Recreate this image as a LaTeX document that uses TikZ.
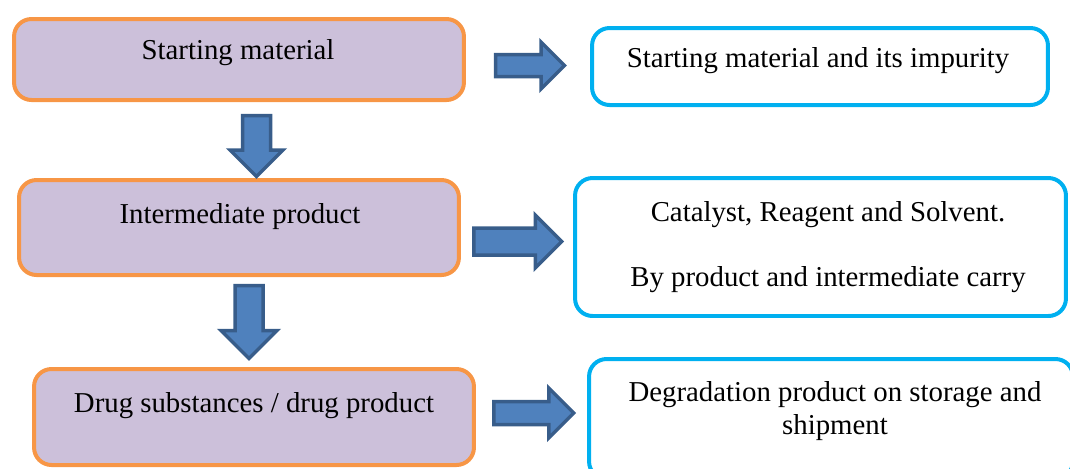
\documentclass[tikz,border=0pt]{standalone}
\usepackage{fontspec}
\setmainfont{Liberation Serif}
\usepackage{tikz}
\usetikzlibrary{shapes.arrows}
\definecolor{stageline}{RGB}{247, 150, 70}
\definecolor{stagebg}{RGB}{204, 192, 218}
\definecolor{sourceline}{RGB}{0, 176, 240}
\definecolor{arrowbg}{RGB}{79, 129, 189}
\definecolor{arrowline}{RGB}{56, 93, 138}
\tikzset{
    stage/.style={rectangle, rounded corners=0.35cm, draw=stageline, fill=stagebg, line width=0.08cm},
    source/.style={rectangle, rounded corners=0.35cm, draw=sourceline, fill=white, line width=0.08cm},
    flow/.style={single arrow, draw=arrowline, fill=arrowbg, line width=0.07cm, inner xsep=0pt, single arrow head indent=0pt, minimum width=1pt},
    label_text/.style={font=\fontsize{16.4}{18.5}\selectfont, align=center, inner sep=0pt}
}

\begin{document}
\begin{tikzpicture}[x=0.02cm, y=-0.02cm]

    \clip (0,0) rectangle (1070,468);

    % Left column: stages
    \node (start) [stage, minimum width=9cm, minimum height=1.62cm] at (239,59.5) {};
    \node (inter) [stage, minimum width=8.8cm, minimum height=1.9cm] at (239,227.5) {};
    \node (drug)  [stage, minimum width=8.8cm, minimum height=1.92cm] at (254,417) {};

    % Right column: impurity sources
    \node (impure)  [source, minimum width=9.12cm, minimum height=1.54cm] at (820,66.5) {};
    \node (reagent) [source, minimum width=9.82cm, minimum height=2.76cm] at (820.5,247) {};
    \node (degrade) [source, minimum width=9.68cm, minimum height=2.4cm] at (831,419) {};

    % Texts
    \node (start_t)   [label_text] at (238,53) {Starting material};
    \node (inter_t)   [label_text] at (240,217) {Intermediate product};
    \node (drug_t)    [label_text] at (254,406) {Drug substances / drug product};
    \node (impure_t)  [label_text] at (818,61) {Starting material and its impurity};
    \node (reagent_t) [label_text] at (828,247.5) {Catalyst, Reagent and Solvent.\\[18.5pt]By product and intermediate carry};
    \node (degrade_t) [label_text] at (835,411) {Degradation product on storage and\\shipment};

    % Block arrows
    \node (a1) [flow, minimum height=1.38cm, inner ysep=0.185cm, single arrow head extend=0.25cm] at (524.5,65.5) {};
    \node (a2) [flow, minimum height=1.76cm, inner ysep=0.235cm, single arrow head extend=0.26cm] at (511,241.5) {};
    \node (a3) [flow, minimum height=1.6cm, inner ysep=0.195cm, single arrow head extend=0.27cm] at (528,413) {};
    \node (d1) [flow, rotate=-90, minimum height=1.22cm, inner ysep=0.245cm, single arrow head extend=0.25cm] at (256.5,139) {};
    \node (d2) [flow, rotate=-90, minimum height=1.46cm, inner ysep=0.245cm, single arrow head extend=0.28cm] at (249,315) {};

\end{tikzpicture}
\end{document}
